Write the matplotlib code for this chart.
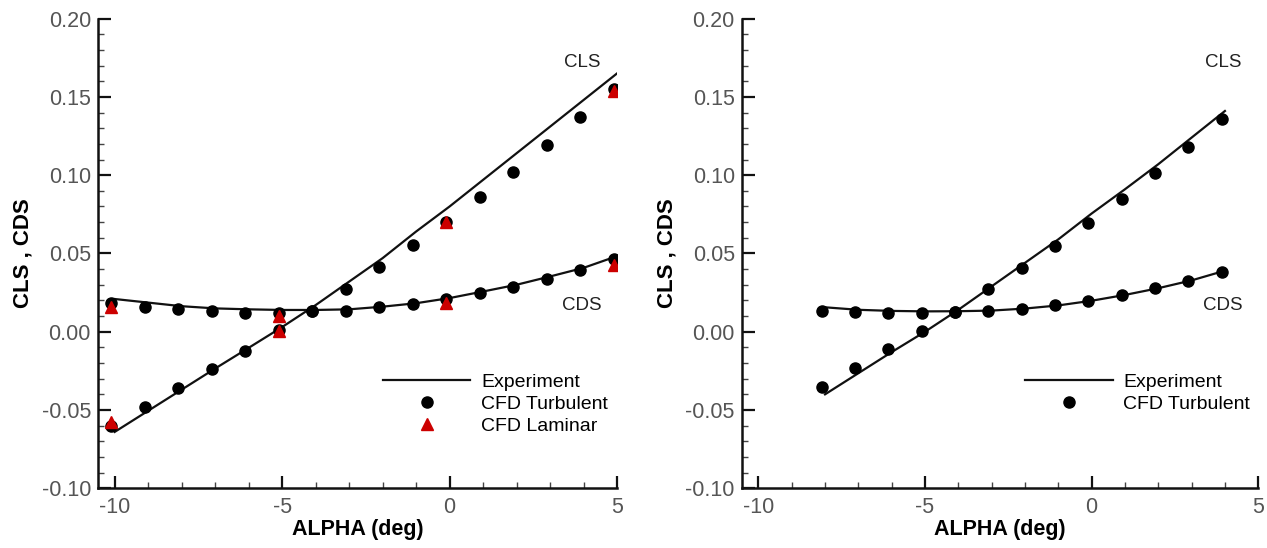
import matplotlib
matplotlib.use("Agg")
import matplotlib.pyplot as plt
from matplotlib.ticker import FormatStrFormatter, MultipleLocator

plt.rcParams["font.family"] = ["Liberation Sans", "DejaVu Sans"]
plt.rcParams["axes.unicode_minus"] = False

# left panel: turbulent + laminar runs
ALPHA_EXP_L = [-10, -9, -8, -7, -6, -5, -4, -3, -2, -1, 0, 1, 2, 3, 4, 5]
CLS_EXP_L = [-0.064, -0.0505, -0.037, -0.0235, -0.0103, 0.003, 0.017, 0.032,
             0.047, 0.064, 0.080, 0.097, 0.114, 0.131, 0.148, 0.165]
CDS_EXP_L = [0.0209, 0.0186, 0.0163, 0.0149, 0.0143, 0.0139, 0.0139, 0.0143,
             0.0160, 0.0182, 0.0215, 0.0257, 0.0300, 0.0353, 0.0408, 0.0483]

ALPHA_TURB_L = [-10.1, -9.1, -8.1, -7.1, -6.1, -5.1, -4.1, -3.1,
                -2.1, -1.1, -0.1, 0.9, 1.9, 2.9, 3.9, 4.9]
CLS_TURB_L = [-0.060, -0.048, -0.036, -0.024, -0.012, 0.001, 0.013, 0.027,
              0.0415, 0.0554, 0.070, 0.0862, 0.1022, 0.1192, 0.1369, 0.1548]
CDS_TURB_L = [0.0181, 0.0156, 0.0143, 0.0130, 0.0121, 0.0121, 0.0132, 0.0134,
              0.0156, 0.0177, 0.0207, 0.0245, 0.0283, 0.0334, 0.0394, 0.0464]

ALPHA_LAM_L = [-10.1, -5.1, -0.1, 4.9]
CLS_LAM_L = [-0.0575, 0.0005, 0.0702, 0.1539]
CDS_LAM_L = [0.0160, 0.0102, 0.0181, 0.0426]

# right panel: turbulent only
ALPHA_EXP_R = [-8, -7, -6, -5, -4, -3, -2, -1, 0, 1, 2, 3, 4]
CLS_EXP_R = [-0.040, -0.0265, -0.013, 0.000, 0.014, 0.029, 0.044, 0.059,
             0.0755, 0.091, 0.107, 0.124, 0.141]
CDS_EXP_R = [0.0156, 0.0140, 0.0133, 0.0130, 0.0131, 0.0135, 0.0148, 0.0168,
             0.0198, 0.0235, 0.0278, 0.0328, 0.0390]

ALPHA_TURB_R = [-8.1, -7.1, -6.1, -5.1, -4.1, -3.1, -2.1, -1.1,
                -0.1, 0.9, 1.9, 2.9, 3.9]
CLS_TURB_R = [-0.0351, -0.0234, -0.0112, 0.0005, 0.0128, 0.0271, 0.0405,
              0.0547, 0.0696, 0.0847, 0.1011, 0.1181, 0.1356]
CDS_TURB_R = [0.0134, 0.0124, 0.0117, 0.0117, 0.0124, 0.0132, 0.0145,
              0.0170, 0.0198, 0.0234, 0.0277, 0.0326, 0.0383]

X_TICKS = [-10, -5, 0, 5]
Y_TICKS = [-0.10, -0.05, 0.00, 0.05, 0.10, 0.15, 0.20]

INK = "#111111"
RED = "#cc0000"


def style_axes(ax):
    ax.set_xlim(-10.5, 5)
    ax.set_ylim(-0.10, 0.20)
    for side in ("top", "right"):
        ax.spines[side].set_visible(False)
    for side in ("left", "bottom"):
        ax.spines[side].set_linewidth(1.8)
        ax.spines[side].set_color(INK)
    ax.set_xticks(X_TICKS)
    ax.set_yticks(Y_TICKS)
    ax.xaxis.set_minor_locator(MultipleLocator(1))
    ax.yaxis.set_minor_locator(MultipleLocator(0.01))
    ax.yaxis.set_major_formatter(FormatStrFormatter("%.2f"))
    ax.tick_params(which="major", direction="in", length=9, width=1.6,
                   color=INK, labelsize=15.5, labelcolor="#555555")
    ax.tick_params(which="minor", direction="in", length=4.5, width=1.0,
                   color="#444444")
    ax.tick_params(axis="y", which="major", pad=5)
    ax.tick_params(axis="x", which="major", pad=6)
    ax.set_xlabel("ALPHA (deg)", fontsize=15.5, fontweight="bold", labelpad=1)
    ax.set_ylabel("CLS , CDS", fontsize=16, fontweight="bold", labelpad=6)
    ax.text(3.95, 0.172, "CLS", fontsize=13.5, color="#222222",
            ha="center", va="center")
    ax.text(3.95, 0.0166, "CDS", fontsize=13.5, color="#222222",
            ha="center", va="center")


fig = plt.figure(figsize=(12.67, 5.48), dpi=100)
ax_l = fig.add_axes([0.0773, 0.109, 0.4097, 0.857])
ax_r = fig.add_axes([0.5854, 0.109, 0.4077, 0.857])

# left
ax_l.plot(ALPHA_EXP_L, CLS_EXP_L, color=INK, lw=1.6, label="Experiment")
ax_l.plot(ALPHA_EXP_L, CDS_EXP_L, color=INK, lw=1.6)
ax_l.plot(ALPHA_TURB_L, CLS_TURB_L, "o", color="black", ms=8,
          label="CFD Turbulent")
ax_l.plot(ALPHA_TURB_L, CDS_TURB_L, "o", color="black", ms=8)
ax_l.plot(ALPHA_LAM_L, CLS_LAM_L, "^", color=RED, ms=8, label="CFD Laminar")
ax_l.plot(ALPHA_LAM_L, CDS_LAM_L, "^", color=RED, ms=8)
style_axes(ax_l)

# right
ax_r.plot(ALPHA_EXP_R, CLS_EXP_R, color=INK, lw=1.6, label="Experiment")
ax_r.plot(ALPHA_EXP_R, CDS_EXP_R, color=INK, lw=1.6)
ax_r.plot(ALPHA_TURB_R, CLS_TURB_R, "o", color="black", ms=8,
          label="CFD Turbulent")
ax_r.plot(ALPHA_TURB_R, CDS_TURB_R, "o", color="black", ms=8)
style_axes(ax_r)

for ax in (ax_l, ax_r):
    ax.legend(loc="upper left", bbox_to_anchor=(0.549, 0.245), frameon=False,
              fontsize=14, handlelength=4.5, handletextpad=0.55,
              labelspacing=0.22, borderpad=0, borderaxespad=0)

fig.savefig("out.png", dpi=100, facecolor="white")
